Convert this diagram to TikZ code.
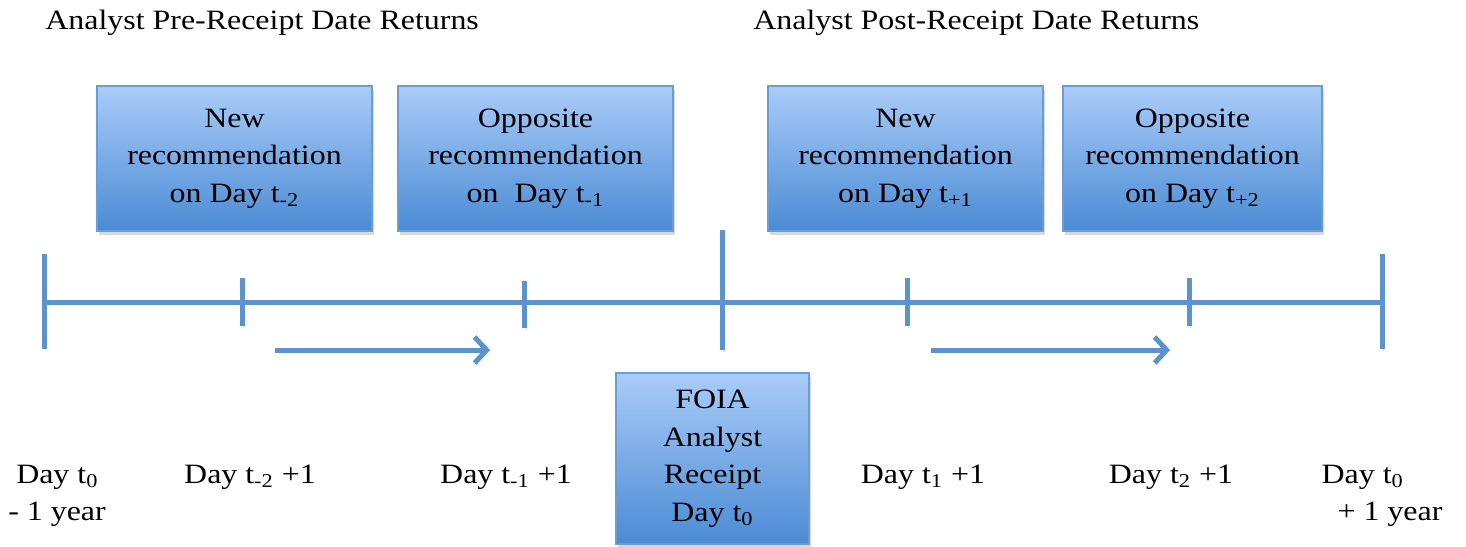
\documentclass[tikz,border=0pt]{standalone}
\usepackage{fontspec}
\setmainfont{Liberation Serif}[FakeStretch=1.14]
\usetikzlibrary{arrows.meta,shadows,calc}
\usepackage{xcolor}
\definecolor{LineBlue}{HTML}{5B93CA}
\definecolor{BoxTop}{HTML}{AACCF8}
\definecolor{BoxBot}{HTML}{4B8BD4}
\definecolor{BoxEdge}{HTML}{6A9DD3}

\begin{document}
\begin{tikzpicture}[
        %Environment config
        x=0.5pt, y=-0.5pt,
        font=\fontsize{14}{18.75}\selectfont,
        %Environment styles
        BoxCfg/.style={
            draw=BoxEdge, line width=0.6pt,
            top color=BoxTop, bottom color=BoxBot,
            drop shadow={shadow xshift=1pt, shadow yshift=-2pt, opacity=0.3},
            align=center, inner sep=0pt,
            minimum height=72.5pt
        },
        LineCfg/.style={
            draw=LineBlue, line width=2.5pt,
            preaction={draw=black, opacity=0.12, transform canvas={xshift=0.6pt, yshift=-1.2pt}}
        },
        ArrCfg/.style={
            LineCfg,
            -{Straight Barb[length=6pt, width=13pt]}
        },
        LblCfg/.style={anchor=base, inner sep=0pt}
    ]
    \useasboundingbox (0,0) rectangle (1466,546);

    %Titles
    \path
        (45,29) node[anchor=base west, inner sep=0pt](PreTitle){Analyst Pre-Receipt Date Returns}
        (753,29) node[anchor=base west, inner sep=0pt](PostTitle){Analyst Post-Receipt Date Returns};

    %Recommendation boxes
    \path
        (234.5,158.5) node[BoxCfg, minimum width=137.5pt](NewPre){New\\recommendation\\on Day t\textsubscript{-2}}
        (535.5,158.5) node[BoxCfg, minimum width=137.5pt](OppPre){Opposite\\recommendation\\on\ \ Day t\textsubscript{-1}}
        (905.5,158.5) node[BoxCfg, minimum width=137.5pt](NewPost){New\\recommendation\\on Day t\textsubscript{+1}}
        (1192.5,158.5) node[BoxCfg, minimum width=129.5pt](OppPost){Opposite\\recommendation\\on Day t\textsubscript{+2}}
        (712.5,458.5) node[BoxCfg, minimum width=96.5pt, minimum height=85.5pt](Foia){FOIA\\Analyst\\Receipt\\Day t\textsubscript{0}};

    %Time line and ticks
    \path
        (44,302) coordinate (T0)
        (242,302) coordinate (T1)
        (524,305) coordinate (T2)
        (722,302) coordinate (T3)
        (907,302) coordinate (T4)
        (1189,302) coordinate (T5)
        (1382,302) coordinate (T6);

    \draw[LineCfg] (T0) -- (T6);
    \draw[LineCfg]
        (T0) ++(0,-48) -- ++(0,95)
        (T1) ++(0,-24) -- ++(0,48)
        (T2) ++(0,-24) -- ++(0,47)
        (T3) ++(0,-72) -- ++(0,120)
        (T4) ++(0,-24) -- ++(0,48)
        (T5) ++(0,-24) -- ++(0,48)
        (T6) ++(0,-48) -- ++(0,95);

    %Return windows
    \path
        (275,350) coordinate (A1s)
        (490,350) coordinate (A1e)
        (931,350) coordinate (A2s)
        (1170,350) coordinate (A2e);
    \draw[ArrCfg] (A1s) -- (A1e);
    \draw[ArrCfg] (A2s) -- (A2e);

    %Day labels
    \path
        (57,520.5) node[LblCfg, align=left](L0){\hspace*{4pt}Day t\textsubscript{0}\\- 1 year}
        (250,483) node[LblCfg](L1){Day t\textsubscript{-2} +1}
        (506,483) node[LblCfg](L2){Day t\textsubscript{-1} +1}
        (923,483) node[LblCfg](L3){Day t\textsubscript{1} +1}
        (1171,483) node[LblCfg](L4){Day t\textsubscript{2} +1}
        (1382,520.5) node[LblCfg, align=left](L5){Day t\textsubscript{0}\\\hspace*{8pt}+ 1 year};

\end{tikzpicture}
\end{document}
